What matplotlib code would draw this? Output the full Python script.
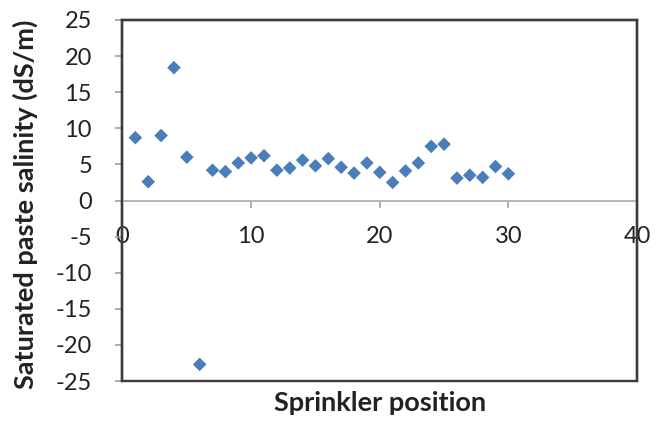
import matplotlib
matplotlib.use('Agg')
import matplotlib.pyplot as plt
from matplotlib.patches import Rectangle

plt.rcParams['font.family'] = ['Lato', 'DejaVu Sans']
plt.rcParams['axes.unicode_minus'] = False

# sprinkler position vs saturated paste salinity (dS/m)
position = list(range(1, 31))
salinity = [8.7, 2.6, 9.0, 18.4, 6.0, -22.7, 4.2, 4.0, 5.2, 5.9,
            6.2, 4.2, 4.5, 5.6, 4.8, 5.8, 4.6, 3.8, 5.2, 3.9,
            2.5, 4.1, 5.2, 7.5, 7.8, 3.1, 3.5, 3.2, 4.7, 3.7]
x_ticks = [0, 10, 20, 30, 40]
y_ticks = list(range(-25, 30, 5))

fig = plt.figure(figsize=(6.69, 4.21), dpi=100)
ax = fig.add_axes([0.1831, 0.0950, 0.7691, 0.8575])

ax.scatter(position, salinity, marker='D', s=48, color='#4A7EBB',
           edgecolors='none', zorder=3, clip_on=False)

ax.set_xlim(0, 40)
ax.set_ylim(-25, 25)
ax.set_xticks(x_ticks)
ax.set_yticks(y_ticks)

# x axis runs through zero, box around plot area
ax.spines['bottom'].set_position(('data', 0))
ax.spines['bottom'].set_color('#B4B4B4')
ax.spines['bottom'].set_linewidth(1.4)
for side in ['left', 'top', 'right']:
    ax.spines[side].set_color('#3C3C3C')
    ax.spines[side].set_linewidth(1.7)
ax.add_patch(Rectangle((0, 0), 1, 1, transform=ax.transAxes, fill=False,
                       edgecolor='#3C3C3C', linewidth=1.7, clip_on=False,
                       zorder=4))

ax.tick_params(axis='x', direction='out', length=5, width=1.2,
               color='#A0A0A0', pad=13, labelsize=17, labelcolor='#222222')
ax.tick_params(axis='y', direction='out', length=5, width=1.2,
               color='#A0A0A0', pad=17, labelsize=17, labelcolor='#222222')

ax.set_xlabel('Sprinkler position', fontsize=19.5, fontweight='bold',
              color='#222222')
ax.xaxis.set_label_coords(0.5, -0.028)
ax.set_ylabel('Saturated paste salinity (dS/m)', fontsize=19.5,
              fontweight='bold', color='#222222')
ax.yaxis.set_label_coords(-0.165, 0.49)

fig.savefig('out.png', dpi=100)
plt.close(fig)
